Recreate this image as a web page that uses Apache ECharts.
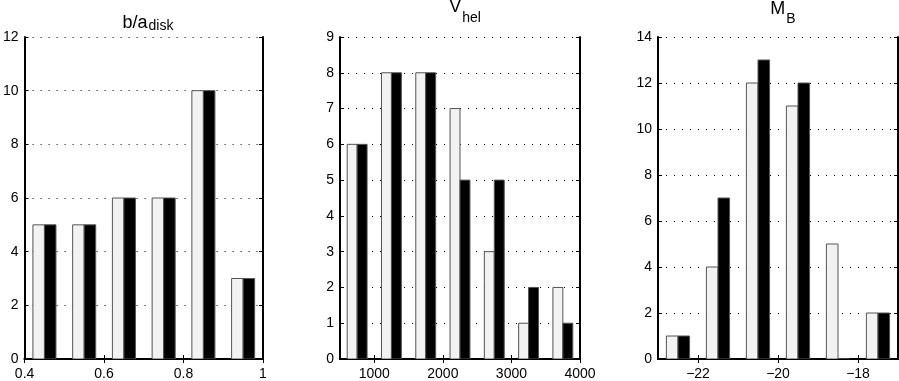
<!DOCTYPE html>
<html>
<head>
<meta charset="utf-8">
<script src="https://cdn.jsdelivr.net/npm/echarts@6/dist/echarts.min.js"></script>
<style>
  html, body { margin: 0; padding: 0; background: #fff; }
  #main { width: 899px; height: 381px; }
</style>
</head>
<body>
<div id="main"></div>
<script>
// b/a disk histogram
const baCenters = [0.45, 0.55, 0.65, 0.75, 0.85, 0.95];
const baLight = [5, 5, 6, 6, 10, 3];
const baDark = [5, 5, 6, 6, 10, 3];
const baTicks = [0.4, 0.6, 0.8, 1];

// V hel histogram
const vCenters = [750, 1250, 1750, 2250, 2750, 3250, 3750];
const vLight = [6, 8, 8, 7, 3, 1, 2];
const vDark = [6, 8, 8, 5, 5, 2, 1];
const vTicks = [1000, 2000, 3000, 4000];

// M_B histogram
const mCenters = [-22.5, -21.5, -20.5, -19.5, -18.5, -17.5];
const mLight = [1, 4, 12, 11, 5, 2];
const mDark = [1, 7, 13, 12, 0, 2];
const mTicks = [-22, -20, -18];

const FONT = "'Liberation Sans', Arial, Helvetica, sans-serif";

// drop = how far the subscript sits below the main text baseline
const panels = [
  { title: ['b/a', 'disk'], drop: 1, centers: baCenters, light: baLight, dark: baDark, bin: 0.1,
    xMin: 0.4, xMax: 1, xTicks: baTicks, yMax: 12, yStep: 2, left: 23 },
  { title: ['V', 'hel'], drop: 9, centers: vCenters, light: vLight, dark: vDark, bin: 500,
    xMin: 500, xMax: 4000, xTicks: vTicks, yMax: 9, yStep: 1, left: 340 },
  { title: ['M', 'B'], drop: 8, centers: mCenters, light: mLight, dark: mDark, bin: 1,
    xMin: -23, xMax: -17, xTicks: mTicks, yMax: 14, yStep: 2, left: 658 }
];
const gridTop = 37, gridW = 240, gridH = 322;

function barItem(side, bin, fill) {
  return function (params, api) {
    const c = api.value(0), v = api.value(1);
    const bw = bin * 0.29;
    const x0 = side < 0 ? c - bw : c;
    const p0 = api.coord([x0, v]);
    const p1 = api.coord([x0 + bw, 0]);
    return {
      type: 'rect',
      shape: { x: p0[0], y: p0[1], width: p1[0] - p0[0], height: p1[1] - p0[1] },
      style: { fill: fill, stroke: '#555', lineWidth: 1 }
    };
  };
}

const axisLine = { show: true, lineStyle: { color: '#000', width: 2 } };
const tick = { show: true, inside: true, length: 4, lineStyle: { color: '#000', width: 1 } };
const label = { color: '#000', fontFamily: FONT, fontSize: 14 };

const option = { animation: false, title: [], grid: [], xAxis: [], yAxis: [], series: [] };

panels.forEach((p, i) => {
  option.grid.push({ left: p.left, top: gridTop, width: gridW, height: gridH });
  option.title.push({
    text: '{m|' + p.title[0] + '}{s|' + p.title[1] + '}',
    left: p.left + gridW / 2,
    top: 29 - (19 + p.drop),
    textAlign: 'center',
    textStyle: {
      rich: {
        m: { fontFamily: FONT, fontSize: 18, fontWeight: 'normal', color: '#000', lineHeight: 19,
             verticalAlign: 'bottom', padding: [0, 0, p.drop, 0] },
        s: { fontFamily: FONT, fontSize: 14, fontWeight: 'normal', color: '#000', lineHeight: 15,
             verticalAlign: 'bottom', padding: [0, 0, 0, 1] }
      }
    }
  });
  const xBase = { type: 'value', gridIndex: i, min: p.xMin, max: p.xMax, axisLine: axisLine, splitLine: { show: false } };
  option.xAxis.push(Object.assign({}, xBase, {
    position: 'bottom',
    axisTick: Object.assign({}, tick, { customValues: p.xTicks }),
    axisLabel: Object.assign({}, label, {
      margin: 8,
      customValues: p.xTicks,
      formatter: v => String(v).replace('-', '\u2212')
    })
  }));
  option.xAxis.push(Object.assign({}, xBase, {
    position: 'top',
    axisTick: Object.assign({}, tick, { customValues: p.xTicks }),
    axisLabel: { show: false }
  }));
  const yBase = { type: 'value', gridIndex: i, min: 0, max: p.yMax, interval: p.yStep, axisLine: axisLine, axisTick: tick };
  option.yAxis.push(Object.assign({}, yBase, {
    position: 'left',
    axisLabel: Object.assign({}, label, { margin: 6 }),
    splitLine: { show: true, lineStyle: { color: '#000', width: 1, type: [1, 7] } }
  }));
  option.yAxis.push(Object.assign({}, yBase, {
    position: 'right',
    axisLabel: { show: false },
    splitLine: { show: false }
  }));
  option.series.push({
    type: 'custom', xAxisIndex: i * 2, yAxisIndex: i * 2, clip: true,
    data: p.centers.map((c, k) => [c, p.light[k]]),
    renderItem: barItem(-1, p.bin, '#f2f2f2')
  });
  option.series.push({
    type: 'custom', xAxisIndex: i * 2, yAxisIndex: i * 2, clip: true,
    data: p.centers.map((c, k) => [c, p.dark[k]]),
    renderItem: barItem(1, p.bin, '#000')
  });
});

const chart = echarts.init(document.getElementById('main'));
chart.setOption(option);
</script>
</body>
</html>
